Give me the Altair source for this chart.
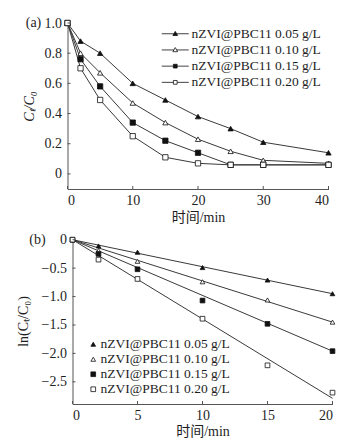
import altair as alt
import pandas as pd

# ---------------- data ----------------
series = ["nZVI@PBC11 0.05 g/L", "nZVI@PBC11 0.10 g/L",
          "nZVI@PBC11 0.15 g/L", "nZVI@PBC11 0.20 g/L"]

# panel (a): C_t/C_0 vs time
t_a = [0, 2, 5, 10, 15, 20, 25, 30, 40]
c005 = [1.0, 0.88, 0.80, 0.60, 0.49, 0.38, 0.30, 0.21, 0.14]
c010 = [1.0, 0.80, 0.67, 0.47, 0.34, 0.23, 0.15, 0.09, 0.07]
c015 = [1.0, 0.76, 0.58, 0.34, 0.22, 0.14, 0.06, 0.06, 0.06]
c020 = [1.0, 0.70, 0.49, 0.25, 0.11, 0.07, 0.06, 0.06, 0.06]

# panel (b): ln(C_t/C_0) vs time
t_b = [0, 2, 5, 10, 15, 20]
ln005 = [0, -0.11, -0.22, -0.49, -0.71, -0.95]
ln010 = [0, -0.19, -0.38, -0.74, -1.06, -1.45]
ln015 = [0, -0.25, -0.52, -1.07, -1.48, -1.96]
ln020 = [0, -0.35, -0.69, -1.39, -2.21, -2.69]
# fitted lines: from (0, 0) to (20, fit_end)
fit_t = [0, 20]
fit_end = [-0.95, -1.45, -1.96, -2.79]

ya_ticks = [0, 0.2, 0.4, 0.6, 0.8, 1.0]
xa_ticks = [0, 10, 20, 30, 40]
yb_ticks = [0, -0.5, -1.0, -1.5, -2.0, -2.5]
xb_ticks = [0, 5, 10, 15, 20]

# ---------------- tables ----------------
df_a = pd.DataFrame(
    [{"t": t, "c": v, "series": s}
     for s, vals in zip(series, [c005, c010, c015, c020])
     for t, v in zip(t_a, vals)])
df_b = pd.DataFrame(
    [{"t": t, "c": v, "series": s}
     for s, vals in zip(series, [ln005, ln010, ln015, ln020])
     for t, v in zip(t_b, vals)])
df_fit = pd.DataFrame(
    [{"t": t, "c": (0 if t == 0 else e), "series": s}
     for s, e in zip(series, fit_end) for t in fit_t])

FONT = "Liberation Serif, Noto Sans CJK SC"
INK = "#1e1e1e"
LINE = "#3a3a3a"
AXC = "#555555"
MK = "#111111"
FS = 13.5
FS_AX = 14

shapes = ["triangle-up", "triangle-up", "square", "square"]
fills = [MK, "#ffffff", MK, "#ffffff"]
strokes = [MK, MK, MK, MK]
# legend symbols of panel (a): marker with a line through it
leg_paths = [
    "M-5.4,0L-0.5,0M0.5,0L5.4,0M0,-0.95L0.95,0.7L-0.95,0.7Z",
    "M-5.4,0L-0.5,0M0.5,0L5.4,0M0,-0.95L0.95,0.7L-0.95,0.7Z",
    "M-5.4,0L-0.75,0M0.75,0L5.4,0M-0.75,-0.75L0.75,-0.75L0.75,0.75L-0.75,0.75Z",
    "M-5.4,0L-0.75,0M0.75,0L5.4,0M-0.75,-0.75L0.75,-0.75L0.75,0.75L-0.75,0.75Z",
]

W_A, H_A = 261, 166
W_B, H_B = 265, 166
X_B0 = 5  # left inset of panel (b) plot


def legend(x, y, offset, rowpad, size):
    return alt.Legend(orient="none", legendX=x, legendY=y, title=None,
                      labelFont=FONT, labelFontSize=FS, labelColor=INK,
                      labelOffset=offset, rowPadding=rowpad, padding=0,
                      symbolStrokeWidth=0.8, symbolSize=size)


def series_enc(shape_range, leg):
    return dict(
        shape=alt.Shape("series:N", scale=alt.Scale(domain=series, range=shape_range), legend=leg),
        fill=alt.Fill("series:N", scale=alt.Scale(domain=series, range=fills), legend=leg),
        stroke=alt.Stroke("series:N", scale=alt.Scale(domain=series, range=strokes), legend=leg),
    )


# ---------------- panel (a) ----------------
xs_a = alt.Scale(domain=[0, 40], nice=False, zero=False)
ys_a = alt.Scale(domain=[-0.1, 1.0], nice=False, zero=False)
xax_a = alt.Axis(values=xa_ticks, title="时间/min", ticks=False, labelPadding=4,
                 titlePadding=3, grid=False, format="d")
yax_a = alt.Axis(values=ya_ticks, title="Cₜ/C₀", ticks=False, labelPadding=6,
                 titlePadding=8, grid=False, titleFontStyle="italic",
                 labelExpr="datum.value == 0 ? '0' : format(datum.value, '.1f')")


def XA(f="t"):
    return alt.X(f"{f}:Q", scale=xs_a, axis=xax_a)


def YA(f="c"):
    return alt.Y(f"{f}:Q", scale=ys_a, axis=yax_a)


lines_a = alt.Chart(df_a).mark_line(color=LINE, strokeWidth=1).encode(
    x=XA(), y=YA(), detail="series:N")
pts_a = alt.Chart(df_a).mark_point(filled=True, strokeWidth=0.8, size=28, opacity=1).encode(
    x=XA(), y=YA(), **series_enc(shapes, None))
leg_a = alt.Chart(df_a).transform_filter("false").mark_point(
    filled=True, strokeWidth=0.8, size=25, opacity=1).encode(
    x=XA(), y=YA(), **series_enc(leg_paths, legend(101, 4, 9.5, 1.2, 25)))
ytk_a = alt.Chart(pd.DataFrame({"v": ya_ticks})).mark_rule(color=AXC, strokeWidth=1).encode(
    y=YA("v"), x=alt.value(0), x2=alt.value(3))
xtk_a = alt.Chart(pd.DataFrame({"v": xa_ticks})).mark_rule(color=AXC, strokeWidth=1).encode(
    x=XA("v"), y=alt.value(H_A), y2=alt.value(H_A - 3))
lab_a = alt.Chart(pd.DataFrame({"lab": ["(a)"]})).mark_text(
    font=FONT, fontSize=FS_AX, color=INK, align="center", baseline="middle").encode(
    text="lab:N", x=alt.value(-34), y=alt.value(0))

panel_a = alt.layer(lines_a, pts_a, leg_a, ytk_a, xtk_a, lab_a).resolve_scale(
    shape="independent", fill="independent", stroke="independent"
).properties(width=W_A, height=H_A)

# ---------------- panel (b) ----------------
xs_b = alt.Scale(domain=[0, 20], nice=False, zero=False, range=[X_B0, W_B])
ys_b = alt.Scale(domain=[-2.89, 0.03], nice=False, zero=False)
xax_b = alt.Axis(values=xb_ticks, title="时间/min", ticks=False, labelPadding=4,
                 titlePadding=2, grid=False, format="d")
yax_b = alt.Axis(values=yb_ticks, title="ln(Cₜ/C₀)", ticks=False, labelPadding=6,
                 titlePadding=11, grid=False, offset=-X_B0,
                 labelExpr="datum.value == 0 ? '0' : replace(format(datum.value, '.1f'), '-', '−')")


def XB(f="t"):
    return alt.X(f"{f}:Q", scale=xs_b, axis=xax_b)


def YB(f="c"):
    return alt.Y(f"{f}:Q", scale=ys_b, axis=yax_b)


fit_b = alt.Chart(df_fit).mark_line(color=LINE, strokeWidth=1).encode(
    x=XB(), y=YB(), detail="series:N")
pts_b = alt.Chart(df_b).mark_point(filled=True, strokeWidth=0.8, size=22, opacity=1).encode(
    x=XB(), y=YB(), **series_enc(shapes, legend(19, 99.5, 0.5, 0, 22)))
ytk_b = alt.Chart(pd.DataFrame({"v": yb_ticks})).mark_rule(color=AXC, strokeWidth=1).encode(
    y=YB("v"), x=alt.value(X_B0), x2=alt.value(X_B0 + 3))
xtk_b = alt.Chart(pd.DataFrame({"v": xb_ticks})).mark_rule(color=AXC, strokeWidth=1).encode(
    x=XB("v"), y=alt.value(H_B), y2=alt.value(H_B - 3))
lab_b = alt.Chart(pd.DataFrame({"lab": ["(b)"]})).mark_text(
    font=FONT, fontSize=FS_AX, color=INK, align="center", baseline="middle").encode(
    text="lab:N", x=alt.value(-30), y=alt.value(1.5))

panel_b = alt.layer(fit_b, pts_b, ytk_b, xtk_b, lab_b).properties(width=W_B, height=H_B)

chart = alt.vconcat(panel_a, panel_b, spacing=49, bounds="flush").resolve_scale(
    shape="independent", fill="independent", stroke="independent"
).resolve_legend(shape="independent", fill="independent", stroke="independent").properties(
    padding={"left": 7.5, "top": 8, "right": 5, "bottom": 0},
    background="white"
).configure_view(stroke=None).configure_axis(
    labelFont=FONT, titleFont=FONT, labelFontSize=FS_AX, titleFontSize=14,
    labelColor=INK, titleColor=INK, domainColor=AXC, domainWidth=1,
    titleFontWeight="normal"
)

chart.save("out.html", embed_options={"renderer": "svg", "actions": False})
